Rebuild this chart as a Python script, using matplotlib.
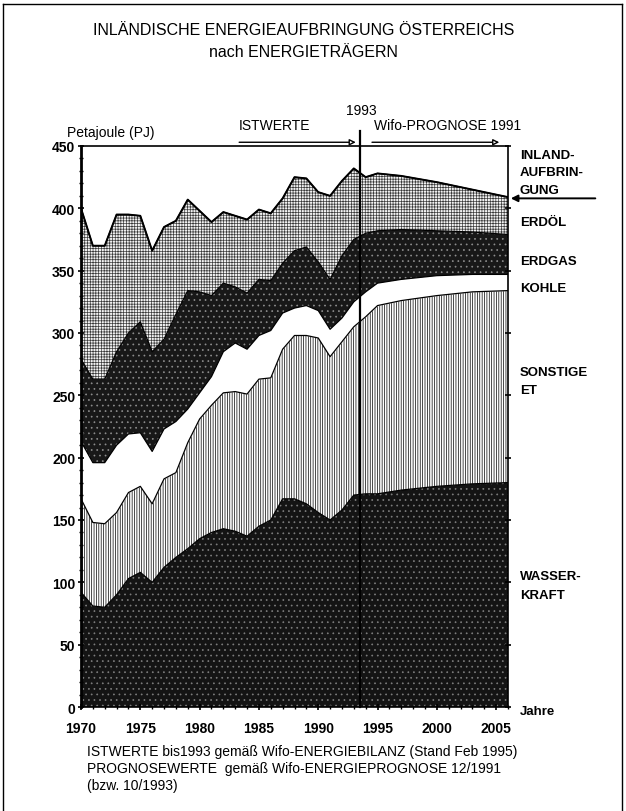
import numpy as np
import matplotlib.pyplot as plt
from matplotlib.lines import Line2D

# Jahre (Istwerte bis 1993, danach Wifo-Prognose)
years = [1970, 1971, 1972, 1973, 1974, 1975, 1976, 1977, 1978, 1979,
         1980, 1981, 1982, 1983, 1984, 1985, 1986, 1987, 1988, 1989,
         1990, 1991, 1992, 1993, 1994, 1995, 1997, 2000, 2003, 2006]

# Energietraeger in PJ, von unten nach oben gestapelt
wasserkraft = [92, 81, 80, 90, 103, 108, 100, 112, 120, 127,
               135, 140, 143, 141, 137, 145, 150, 167, 167, 163,
               156, 150, 158, 170, 171, 171, 174, 177, 179, 180]
sonstige = [75, 67, 67, 66, 69, 69, 63, 71, 68, 85,
            96, 102, 109, 112, 114, 118, 114, 120, 131, 135,
            140, 131, 135, 135, 142, 151, 152, 153, 154, 154]
kohle = [46, 48, 49, 54, 47, 43, 42, 40, 41, 27,
         21, 23, 33, 39, 36, 35, 38, 29, 22, 24,
         22, 22, 19, 20, 20, 18, 17, 16, 14, 13]
erdgas = [66, 67, 67, 75, 81, 89, 80, 72, 86, 95,
          81, 65, 55, 45, 45, 45, 40, 40, 46, 47,
          39, 40, 50, 50, 47, 42, 40, 36, 34, 32]
erdoel = [121, 107, 107, 110, 95, 85, 81, 90, 75, 73,
          65, 59, 57, 57, 59, 56, 54, 52, 59, 55,
          56, 67, 60, 57, 45, 46, 43, 39, 34, 30]

right_labels = ['ERDÖL', 'ERDGAS', 'KOHLE', 'SONSTIGE', 'ET', 'WASSER-', 'KRAFT']
right_label_y = [389, 358, 336, 269, 254, 105, 90]
inland_lines = ['INLAND-', 'AUFBRIN-', 'GUNG']
inland_y = [443, 429, 415]

plt.rcParams['font.family'] = ['Liberation Sans', 'DejaVu Sans']
plt.rcParams['hatch.linewidth'] = 0.5

fig = plt.figure(figsize=(6.26, 8.12), dpi=100)
ax = fig.add_axes([81 / 626, 1 - 708 / 812, 427 / 626, 561 / 812])

x = np.array(years)
layers = [wasserkraft, sonstige, kohle, erdgas, erdoel]
styles = [
    dict(facecolor='#141414', edgecolor='#7e7e7e', hatch='...'),   # Wasserkraft
    dict(facecolor='white', edgecolor='black', hatch='|||||||'),   # Sonstige ET
    dict(facecolor='white', edgecolor='white'),                    # Kohle
    dict(facecolor='#181818', edgecolor='#8e8e8e', hatch='...'),   # Erdgas
    dict(facecolor='#f2f2f2', edgecolor='#3a3a3a', hatch='++++++'),  # Erdoel
]
base = np.zeros(len(x))
for vals, st in zip(layers, styles):
    top = base + np.array(vals)
    ax.fill_between(x, base, top, linewidth=0, **st)
    ax.plot(x, top, color='black', lw=0.9)
    base = top
ax.plot(x, base, color='black', lw=1.4)

ax.set_xlim(1970, 2006)
ax.set_ylim(0, 450)
ax.set_xticks(range(1970, 2006, 5))
ax.set_xticks(range(1970, 2007), minor=True)
ax.set_yticks(range(0, 451, 50))
ax.set_yticks(range(0, 451, 10), minor=True)
ax.tick_params(axis='both', which='major', labelsize=10, length=4,
               direction='inout', width=1.2)
ax.tick_params(axis='both', which='minor', length=2.5, direction='inout', width=1)
ax.tick_params(axis='y', which='major', right=True)
ax.tick_params(axis='x', pad=8)
ax.tick_params(axis='y', pad=2)
for lab in ax.get_xticklabels() + ax.get_yticklabels():
    lab.set_fontweight('bold')
ax.spines['left'].set_linewidth(2)
for s in ['top', 'right', 'bottom']:
    ax.spines[s].set_linewidth(1.2)

# Trennlinie Istwerte / Prognose
ax.plot([1993.5, 1993.5], [0, 462], color='black', lw=1.6, clip_on=False)
ax.text(1993.6, 479, '1993', ha='center', va='center', fontsize=10)
ax.annotate('', xy=(1993.4, 453), xytext=(1983.1, 453), annotation_clip=False,
            arrowprops=dict(arrowstyle='-|>', color='black', fc='white', lw=1,
                            mutation_scale=9))
ax.annotate('', xy=(2005.5, 453), xytext=(1994.3, 453), annotation_clip=False,
            arrowprops=dict(arrowstyle='-|>', color='black', fc='white', lw=1,
                            mutation_scale=9))
ax.text(1983.3, 467, 'ISTWERTE', ha='left', va='center', fontsize=10)
ax.text(1994.7, 467, 'Wifo-PROGNOSE 1991', ha='left', va='center', fontsize=10)
ax.text(1968.8, 461, 'Petajoule (PJ)', ha='left', va='center', fontsize=10)

trans = ax.get_yaxis_transform()
for txt, yv in zip(inland_lines, inland_y):
    ax.text(1.028, yv, txt, transform=trans, ha='left', va='center',
            fontsize=9.5, fontweight='bold')
for txt, yv in zip(right_labels, right_label_y):
    ax.text(1.028, yv, txt, transform=trans, ha='left', va='center',
            fontsize=9.5, fontweight='bold')
ax.annotate('', xy=(1.0, 408), xytext=(1.211, 408), xycoords=trans,
            textcoords=trans, arrowprops=dict(arrowstyle='-|>', color='black',
                                              lw=1.4, mutation_scale=10))
ax.text(1.028, -3, 'Jahre', transform=trans, ha='left', va='center',
        fontsize=9.5, fontweight='bold')

fig.text(0.485, 0.963, 'INLÄNDISCHE ENERGIEAUFBRINGUNG ÖSTERREICHS',
         ha='center', va='center', fontsize=11.5)
fig.text(0.485, 0.935, 'nach ENERGIETRÄGERN', ha='center', va='center',
         fontsize=11.5)

notes = ['ISTWERTE bis1993 gemäß Wifo-ENERGIEBILANZ (Stand Feb 1995)',
         'PROGNOSEWERTE  gemäß Wifo-ENERGIEPROGNOSE 12/1991',
         '(bzw. 10/1993)']
for i, n in enumerate(notes):
    fig.text(0.139, 0.074 - i * 0.021, n, ha='left', va='center', fontsize=10)

# Rahmen um die ganze Grafik
for xs, ys in [([0.004, 0.004], [0, 0.994]), ([0.994, 0.994], [0, 0.994]),
               ([0.004, 0.994], [0.994, 0.994])]:
    fig.add_artist(Line2D(xs, ys, color='black', lw=1))

fig.savefig('out.png', dpi=100)
